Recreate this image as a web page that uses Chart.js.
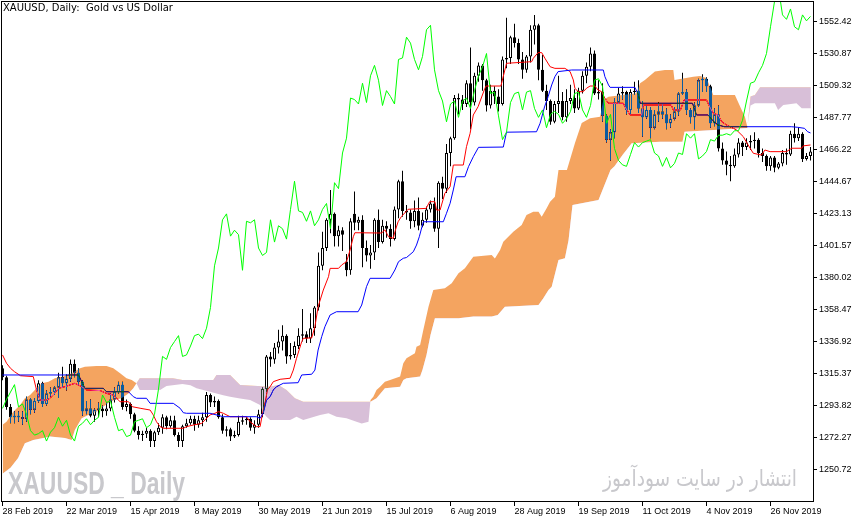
<!DOCTYPE html>
<html>
<head>
<meta charset="utf-8">
<title>XAUUSD, Daily</title>
<script src="https://cdn.jsdelivr.net/npm/chart.js@4.4.1/dist/chart.umd.min.js"></script>
<style>
  html, body { margin: 0; padding: 0; background: #ffffff; }
  #wrap { width: 866px; height: 522px; }
</style>
</head>
<body>
<div id="wrap"><canvas id="chart" width="866" height="522"></canvas></div>
<script>
const UI_FONT = "Liberation Sans, Arial, sans-serif";

// daily bars, index 0 = 28 Feb 2019
const opens = [
  1319,1313,1293,1286,1287,1286,1285,1298,1291,1297,
  1309,1295,1302,1303,1306,1313,1309,1312,1322,1316,
  1310,1290,1292,1287,1291,1292,1290,1292,1298,1303,
  1308,1293,1295,1288,1277,1274,1275,1277,1270,1276,
  1279,1286,1280,1284,1274,1270,1280,1282,1285,1281,
  1284,1286,1301,1296,1297,1286,1277,1278,1273,1274,
  1283,1284,1285,1279,1281,1288,1305,1327,1325,1333,
  1337,1341,1327,1328,1334,1341,1342,1339,1346,1360,
  1388,1400,1419,1423,1408,1412,1391,1385,1423,1417,
  1419,1400,1395,1397,1419,1404,1415,1413,1406,1426,
  1445,1425,1424,1418,1425,1415,1419,1426,1430,1413,
  1444,1440,1464,1474,1501,1500,1497,1511,1498,1516,
  1523,1513,1496,1506,1502,1497,1527,1528,1542,1538,
  1527,1520,1529,1547,1550,1520,1506,1499,1485,1497,
  1499,1488,1499,1501,1494,1506,1516,1522,1531,1504,
  1505,1489,1473,1478,1498,1504,1505,1493,1505,1506,
  1494,1488,1493,1481,1490,1492,1490,1484,1487,1492,
  1504,1505,1493,1488,1496,1513,1514,1509,1484,1490,
  1467,1459,1456,1455,1463,1471,1468,1471,1472,1473,
  1464,1462,1455,1461,1454,1457,1464,1463,1477,1474,
  1477,1460,1462
];
const highs = [
  1321,1314,1295,1290,1290,1290,1300,1299,1299,1311,
  1310,1304,1306,1307,1316,1320,1315,1325,1325,1319,
  1311,1297,1298,1292,1296,1294,1296,1302,1306,1310,
  1310,1298,1296,1289,1280,1277,1279,1278,1277,1282,
  1288,1287,1287,1287,1276,1281,1285,1287,1287,1287,
  1289,1303,1302,1300,1298,1288,1280,1279,1277,1287,
  1287,1286,1286,1284,1291,1306,1328,1330,1336,1345,
  1348,1342,1336,1337,1346,1359,1344,1356,1361,1397,
  1411,1420,1439,1424,1415,1414,1396,1420,1438,1421,
  1422,1405,1402,1420,1426,1419,1418,1416,1428,1446,
  1452,1429,1426,1432,1434,1424,1428,1432,1434,1445,
  1448,1470,1475,1503,1504,1503,1513,1535,1518,1525,
  1524,1514,1510,1509,1507,1529,1555,1543,1551,1541,
  1532,1530,1550,1557,1551,1530,1510,1500,1499,1516,
  1505,1507,1510,1507,1508,1519,1525,1535,1533,1513,
  1511,1490,1480,1501,1508,1509,1506,1507,1512,1513,
  1499,1496,1495,1493,1498,1497,1494,1490,1495,1505,
  1518,1507,1494,1498,1514,1517,1515,1510,1494,1496,
  1471,1465,1462,1467,1474,1472,1474,1476,1478,1474,
  1467,1463,1462,1462,1458,1466,1467,1479,1484,1481,
  1478,1464,1468
];
const lows = [
  1311,1291,1282,1282,1283,1281,1283,1288,1289,1296,
  1293,1294,1300,1301,1299,1306,1304,1310,1313,1308,
  1287,1288,1286,1283,1286,1286,1287,1290,1296,1302,
  1291,1290,1285,1276,1271,1270,1272,1266,1266,1274,
  1275,1278,1279,1273,1266,1266,1279,1281,1277,1279,
  1280,1283,1293,1293,1285,1275,1273,1270,1272,1273,
  1281,1281,1277,1275,1279,1286,1303,1320,1322,1329,
  1331,1322,1325,1326,1332,1337,1336,1336,1341,1358,
  1385,1398,1410,1401,1401,1398,1381,1382,1412,1412,
  1387,1391,1386,1392,1400,1403,1407,1401,1405,1420,
  1421,1419,1413,1414,1412,1414,1417,1424,1411,1400,
  1433,1437,1455,1473,1490,1493,1495,1480,1496,1512,
  1506,1492,1494,1497,1492,1496,1521,1524,1535,1524,
  1514,1518,1525,1537,1513,1505,1493,1483,1484,1491,
  1486,1485,1497,1491,1493,1504,1511,1519,1503,1500,
  1485,1471,1459,1474,1497,1500,1490,1490,1503,1491,
  1475,1487,1474,1480,1485,1487,1480,1481,1486,1489,
  1503,1490,1484,1480,1495,1505,1505,1481,1482,1465,
  1456,1449,1445,1454,1461,1462,1466,1466,1467,1461,
  1458,1452,1452,1451,1453,1455,1456,1462,1471,1472,
  1458,1459,1459
];
const closes = [
  1313,1293,1286,1287,1286,1285,1298,1291,1297,1309,
  1295,1302,1303,1306,1313,1309,1312,1322,1316,1310,
  1290,1292,1287,1291,1292,1290,1292,1298,1303,1308,
  1293,1295,1288,1277,1274,1275,1277,1270,1276,1279,
  1286,1280,1284,1274,1270,1280,1282,1285,1281,1284,
  1286,1301,1296,1297,1286,1277,1278,1273,1274,1283,
  1284,1285,1279,1281,1288,1305,1327,1325,1333,1337,
  1341,1327,1328,1334,1341,1342,1339,1346,1360,1388,
  1400,1419,1423,1408,1412,1409,1385,1418,1417,1419,
  1400,1395,1397,1419,1404,1415,1413,1406,1426,1445,
  1425,1424,1418,1425,1415,1419,1426,1430,1413,1444,
  1440,1464,1474,1501,1500,1497,1511,1498,1516,1523,
  1513,1496,1506,1502,1497,1527,1528,1542,1538,1527,
  1520,1529,1547,1550,1520,1506,1499,1485,1497,1499,
  1488,1499,1501,1494,1506,1516,1522,1531,1504,1505,
  1489,1473,1478,1498,1504,1505,1493,1505,1506,1494,
  1488,1493,1481,1490,1492,1490,1484,1487,1492,1504,
  1505,1493,1488,1496,1513,1514,1509,1484,1490,1467,
  1459,1456,1455,1463,1471,1468,1471,1472,1473,1464,
  1462,1455,1461,1454,1457,1464,1463,1477,1474,1477,
  1460,1462,1465
];
// closes after the last visible bar, shown by the lagging span on the last 26 bars
const laterCloses = [
  1473,1472,1476,1476,1477,1476,1479,1479,1486,1499,
  1511,1512,1518,1523,1531,1549,1566,1575,1557,1554,
  1561,1549,1547,1557,1553,1556
];

// indicator lines as [bar, price] points
const tenkanPts = [
  [0,1328],[1,1322.4],[2,1319],[3,1316.7],[4.5,1314],[7.7,1313.4],[8.5,1304.4],[9.4,1297.6],[11,1297.6],
  [11.9,1298.8],[13,1302.1],[14,1305.5],[15.6,1306.6],[18.1,1308.9],[19.8,1306.6],[21,1304.4],[24.4,1304],
  [26,1302.1],[27.7,1301],[29.4,1296.5],[31.5,1296.5],[32.5,1293.1],[34.4,1292.1],[36.9,1290.9],[37.7,1287.6],
  [38.5,1283],[39.4,1279.7],[40.2,1278.6],[45.2,1278.6],[46,1279.7],[47.7,1280.8],[49.8,1281.9],[51,1285.3],
  [51.9,1287.6],[53.1,1288.7],[54,1289.8],[55.2,1288.7],[56.9,1286.4],[61,1286.4],[61.9,1283],[63.5,1279.7],
  [64.4,1279.7],[65,1288.7],[65.8,1297.6],[66.2,1304.4],[66.9,1306.6],[67.7,1310],[69.4,1311.6],[71.9,1312.3],
  [72.7,1317.8],[73.5,1325.7],[74.8,1336.9],[75.2,1339.2],[77.3,1339.5],[78.1,1347],[78.9,1360.5],[80.2,1371.7],
  [81.5,1380.7],[81.9,1386.3],[84,1386.3],[84.8,1388.6],[86,1390.8],[86.9,1398.7],[87.7,1407.6],[88.1,1410.3],
  [94.8,1410.1],[95.6,1412.3],[96.5,1407.6],[97.7,1406.5],[98.1,1411],[98.9,1417.7],[99.7,1421.1],[101.4,1426.1],
  [105.9,1426.7],[106.8,1431.2],[108.1,1431.2],[108.5,1425.6],[109.4,1425.6],[110.6,1436.9],[111.9,1441.3],
  [112.7,1455.9],[115.2,1455.9],[116,1468.3],[116.9,1477.2],[117.7,1489.6],[118.9,1495.2],[120.6,1507.6],
  [120.9,1509.1],[124.6,1509.1],[126,1524.4],[132.3,1525.5],[132.7,1527.8],[133.9,1531.6],[134.8,1531.6],
  [135.6,1527.8],[136.9,1522.1],[138.1,1521],[140.6,1521],[141.9,1518.8],[142.7,1513.2],[143.1,1507.6],
  [143.9,1505.3],[145.2,1505.3],[146,1507.6],[146.9,1509.1],[148.1,1509.1],[148.9,1506.4],[149.8,1505.3],
  [150.6,1500.8],[151.5,1497.5],[155.2,1497.5],[155.6,1495.2],[156.9,1489.6],[159.8,1489.6],[160.2,1496.3],
  [167.2,1496.3],[167.7,1492.9],[169.5,1493],[170.4,1499.7],[176,1499.7],[177,1494],[177.7,1490.7],
  [178.9,1489.6],[179.8,1485.1],[181,1482.9],[183.5,1479.5],[185.2,1475],[186.4,1469.4],[187.7,1463.8],
  [189.8,1462.6],[190.6,1466],[191.9,1464.9],[196,1464.9],[197.3,1467.2],[199.8,1467.2],[200.2,1468.8],[202,1469.4]
];
const kijunPts = [
  [0,1314.5],[19,1314.5],[20.6,1305.5],[25.2,1305.5],[26,1303.2],[31.5,1303.2],[32.7,1299.9],[33.5,1298.8],
  [36,1298.8],[36.9,1295.4],[42.7,1295.4],[44.4,1292.1],[45.2,1289.1],[46,1288.7],[51.9,1288.7],[55.2,1286.4],
  [63.5,1286.4],[64.4,1285.3],[65.2,1289],[66,1297.6],[66.9,1299.9],[67.7,1304.4],[68.5,1306.6],[70.2,1308.9],
  [73.9,1309.3],[74.8,1314.5],[77.3,1315],[78.1,1317.8],[78.9,1331.3],[79.8,1340.3],[80.6,1347],[81.9,1354.9],
  [83.5,1357.1],[88.9,1357.1],[89.8,1361.6],[91,1374],[91.9,1379.6],[96.9,1379.6],[98.1,1385.2],[99,1390.8],
  [100.2,1393.1],[101,1393.6],[102.7,1397.5],[103.5,1402],[104.2,1407.6],[105.2,1417.7],[110.2,1417.7],
  [111,1423.4],[111.9,1430.1],[112.7,1439.1],[113.4,1448],[115.6,1448],[116.5,1454.8],[117.7,1461.5],
  [119,1467.8],[125.2,1468],[126,1478],[133.5,1478.3],[134.4,1484],[135.5,1495],[136.4,1501.9],[137.3,1509.8],
  [138.1,1515.4],[138.9,1518.8],[142.3,1519.9],[150.2,1519.9],[150.6,1515.4],[151.5,1509.8],[151.9,1508.2],
  [158.1,1508.2],[159,1503],[159.4,1497.5],[172.5,1497.5],[173.5,1489.6],[176.4,1489.6],[177.5,1486],
  [178.8,1482.9],[180.5,1481.7],[197.2,1481.7],[198.8,1481.3],[200.5,1480.6],[201.3,1478.3],[202,1477.5]
];
const spanAPts = [
  [0,1281],[1,1283],[2.7,1289.8],[4.4,1294.3],[5.6,1298.8],[6.9,1301],[8.5,1305.5],[9.8,1308.9],[11.5,1310],
  [13.1,1312.3],[15.2,1313.4],[17.3,1315.6],[19.4,1319],[20.6,1320.1],[23.5,1320.5],[26,1320.5],[27.7,1319],
  [29.4,1315.6],[31,1312.3],[32.3,1311.1],[33.5,1309],[34.3,1304.4],[39.4,1304.4],[41,1307],[45,1308.5],
  [47,1307.5],[48.5,1305.5],[51.9,1303.2],[53.5,1302.1],[55.2,1300.9],[56.9,1299.8],[59.4,1298.7],[61.9,1297.6],
  [64.4,1294.3],[65.2,1289],[66,1286.4],[66.9,1284.2],[71.9,1284.2],[73.5,1286.4],[75.2,1284.2],[79.4,1287.6],
  [81.5,1288.7],[83.5,1286.4],[86,1285.3],[88.5,1283],[89.8,1281.9],[91.5,1283],[92,1297.6],[92.7,1299.9],
  [93.5,1304.4],[94.4,1306.6],[95.6,1310],[96.9,1311.1],[99.4,1313.4],[100.2,1322.4],[101,1325.7],[103.1,1329.1],
  [103.5,1333.5],[104.4,1334.7],[105.2,1344.8],[106.5,1360.5],[107.7,1371.7],[110.6,1372.9],[112.3,1376.2],
  [114,1383],[115.6,1386.3],[117.7,1394.2],[122.3,1395.3],[123.1,1393],[124.4,1398.7],[125.2,1404.3],
  [127.7,1411],[129.8,1415.5],[131,1422.2],[132.7,1424.5],[134,1424.5],[134.8,1421.1],[136,1426.7],
  [136.9,1431.2],[138.1,1434.6],[139,1452.5],[141.1,1452.5],[143.1,1470.5],[144.8,1484.2],[146.9,1487.4],
  [149.4,1488.4],[150.2,1499.7],[151.5,1501.9],[158.5,1504.2],[159.4,1510.9],[160.6,1513.2],[163.1,1518.8],
  [165.6,1519.9],[167.7,1519.9],[168,1513.2],[172.7,1515.4],[174.4,1515.8],[176,1514.5],[176.9,1508.6],
  [177.7,1503],[183.1,1503],[184.8,1492.9],[185.6,1488.4],[186.2,1481.7],[187,1496],[188.1,1497.5],
  [193.1,1497.5],[193.9,1492.9],[195.2,1496.3],[198.5,1497.5],[199.8,1494.1],[202.1,1494.1]
];
const spanBPts = [
  [0,1248],[2,1252],[3.9,1258.6],[5.6,1268.5],[7.7,1270.7],[10.2,1272],[11.9,1273],[15.6,1272],[17.3,1270.7],
  [18.1,1277.4],[19.8,1285.3],[21.5,1287.6],[23.5,1289.8],[25.2,1293.1],[26.9,1296.5],[28.1,1297.6],
  [29.8,1298.8],[31.5,1302.1],[32.7,1305.5],[33.5,1308.9],[34.3,1312.3],[42.6,1312.3],[45,1311.1],
  [52.7,1311.1],[53.5,1314.5],[56.9,1314.5],[59.4,1307.7],[66.9,1306.6],[69,1307.7],[71,1304.4],[73.1,1298.8],
  [75.2,1296.5],[92,1296.5],[93.5,1298.8],[95.6,1305.5],[99.4,1306.6],[100.2,1311.1],[101,1312.3],
  [104.4,1313.4],[105,1318],[106,1328],[107,1341.4],[108.1,1352.7],[114,1352.7],[117.7,1353.8],[122.3,1353.8],
  [123.8,1354.9],[125.6,1360.5],[134,1361.6],[135.2,1366.1],[136.5,1371.7],[137.3,1374],[139,1392],
  [140.6,1393.1],[141.5,1405],[142.5,1429],[149,1432.3],[150,1439.1],[152,1452.5],[153,1455],[155,1462.6],
  [157.3,1470.5],[164.4,1471.6],[170,1471.6],[170.5,1478.3],[186.2,1480.8],[187,1502],[188.1,1503],
  [189.4,1508.2],[202.1,1508.2]
];

const xTickBars = [0, 16, 32, 48, 64, 80, 96, 112, 128, 144, 160, 176, 192];
const xTickLabels = [
  "28 Feb 2019", "22 Mar 2019", "15 Apr 2019", "8 May 2019", "30 May 2019", "21 Jun 2019", "15 Jul 2019",
  "6 Aug 2019", "28 Aug 2019", "19 Sep 2019", "11 Oct 2019", "4 Nov 2019", "26 Nov 2019"
];
const yTickLabels = [
  "1250.72", "1272.27", "1293.82", "1315.37", "1336.92", "1358.47", "1380.02", "1401.57",
  "1423.13", "1444.67", "1466.22", "1487.77", "1509.32", "1530.87", "1552.42"
];

const toXY = (pts) => pts.map(([x, y]) => ({ x, y }));
const bars = closes.map((_, i) => i);
const wickData = bars.map((i) => ({ x: i, y: [lows[i], highs[i]] }));
const bodyData = bars.map((i) => ({ x: i, y: [opens[i], closes[i]] }));
const bodyColors = bars.map((i) => (closes[i] >= opens[i] ? "#ffffff" : "#000000"));
const chikouData = closes.slice(26).concat(laterCloses).map((v, i) => ({ x: i, y: v }));

const IDX_SPAN_A = 1;
const IDX_SPAN_B = 2;
const IDX_KIJUN = 3;

function fitText(ctx, text, x, y, width, font, color, align) {
  ctx.save();
  ctx.font = font;
  ctx.fillStyle = color;
  ctx.textBaseline = "alphabetic";
  ctx.textAlign = align;
  const w = ctx.measureText(text).width || width;
  ctx.translate(x, y);
  ctx.scale(width / w, 1);
  ctx.fillText(text, 0, 0);
  ctx.restore();
}

const decorations = {
  id: "decorations",
  beforeDraw(chart) {
    const ctx = chart.ctx;
    ctx.save();
    ctx.fillStyle = "#ffffff";
    ctx.fillRect(0, 0, chart.width, chart.height);
    ctx.restore();
  },
  beforeDatasetsDraw(chart) {
    const ctx = chart.ctx;
    fitText(ctx, "XAUUSD _ Daily", 8, 494, 177,
      "bold 32px 'Liberation Sans Narrow', 'Liberation Sans', Arial, sans-serif", "#c8c8cc", "left");
    fitText(ctx, "انتشار در سایت سودآموز", 797, 486, 194,
      "23px 'DejaVu Sans', sans-serif", "#c8c8cc", "right");
  },
  afterDatasetDraw(chart, args) {
    // cloud is painted as an inverting fill, like the terminal does
    if (args.index === IDX_KIJUN) chart.ctx.globalCompositeOperation = "difference";
    if (args.index === IDX_SPAN_A) chart.ctx.globalCompositeOperation = "source-over";
  },
  afterDraw(chart) {
    const ctx = chart.ctx;
    const a = chart.chartArea;
    ctx.save();
    ctx.strokeStyle = "#000000";
    ctx.lineWidth = 1;
    ctx.strokeRect(a.left + 0.5, a.top + 0.5, a.right - a.left, a.bottom - a.top);
    ctx.fillStyle = "#000000";
    ctx.font = "10px 'DejaVu Sans', sans-serif";
    ctx.textBaseline = "alphabetic";
    ctx.textAlign = "left";
    ctx.fillText("XAUUSD, Daily:  Gold vs US Dollar", 3, 10.5);
    ctx.restore();
  }
};

const lineBase = { type: "line", borderWidth: 1, pointRadius: 0, pointHoverRadius: 0, tension: 0, fill: false };

new Chart(document.getElementById("chart").getContext("2d"), {
  type: "bar",
  data: {
    datasets: [
      { ...lineBase, label: "Chikou Span", data: chikouData, borderColor: "#00ff00", order: 1 },
      {
        ...lineBase, label: "Senkou Span A", data: toXY(spanAPts), borderWidth: 0,
        borderColor: "rgba(0,0,0,0)", order: 2,
        fill: { target: IDX_SPAN_B, above: "#0b5b9f", below: "#274027" }
      },
      { ...lineBase, label: "Senkou Span B", data: toXY(spanBPts), borderWidth: 0, borderColor: "rgba(0,0,0,0)", order: 9 },
      { ...lineBase, label: "Kijun-sen", data: toXY(kijunPts), borderColor: "#0000ff", order: 3 },
      { ...lineBase, label: "Tenkan-sen", data: toXY(tenkanPts), borderColor: "#ff0000", order: 4 },
      {
        type: "bar", label: "Body", data: bodyData, backgroundColor: bodyColors, borderColor: "#000000",
        borderWidth: 1, borderSkipped: false, barThickness: 3, grouped: false, minBarLength: 1,
        inflateAmount: 0, order: 5
      },
      {
        type: "bar", label: "Wick", data: wickData, backgroundColor: "#000000", borderWidth: 0,
        barThickness: 1, grouped: false, inflateAmount: 0, order: 6
      }
    ]
  },
  options: {
    responsive: false,
    animation: false,
    events: [],
    layout: { padding: { top: 1, left: 1, right: 0, bottom: 0 } },
    plugins: {
      legend: { display: false },
      tooltip: { enabled: false },
      title: { display: false }
    },
    scales: {
      x: {
        type: "linear",
        min: -0.375,
        max: 202.625,
        bounds: "data",
        offset: false,
        afterBuildTicks: (scale) => { scale.ticks = xTickBars.map((v) => ({ value: v })); },
        afterFit: (scale) => {
          scale.height = 21;
          scale.paddingLeft = 0;
          scale.paddingRight = 0;
        },
        ticks: {
          autoSkip: false,
          maxRotation: 0,
          minRotation: 0,
          align: "start",
          padding: 0,
          color: "#000000",
          font: { family: UI_FONT, size: 9 },
          callback: (v, i) => xTickLabels[i]
        },
        grid: { drawOnChartArea: false, drawTicks: true, tickLength: 5, color: "#000000", offset: false },
        border: { display: true, color: "#000000", width: 1 }
      },
      y: {
        type: "linear",
        position: "right",
        min: 1229.63,
        max: 1566.36,
        bounds: "data",
        beginAtZero: false,
        afterBuildTicks: (scale) => { scale.ticks = yTickLabels.map((s) => ({ value: Number(s) })); },
        afterFit: (scale) => {
          scale.width = 53;
          scale.paddingTop = 0;
          scale.paddingBottom = 0;
        },
        ticks: {
          padding: 2,
          color: "#000000",
          font: { family: UI_FONT, size: 9 },
          callback: (v, i) => yTickLabels[i]
        },
        grid: { drawOnChartArea: false, drawTicks: true, tickLength: 4, color: "#000000" },
        border: { display: true, color: "#000000", width: 1 }
      }
    }
  },
  plugins: [decorations]
});
</script>
</body>
</html>
